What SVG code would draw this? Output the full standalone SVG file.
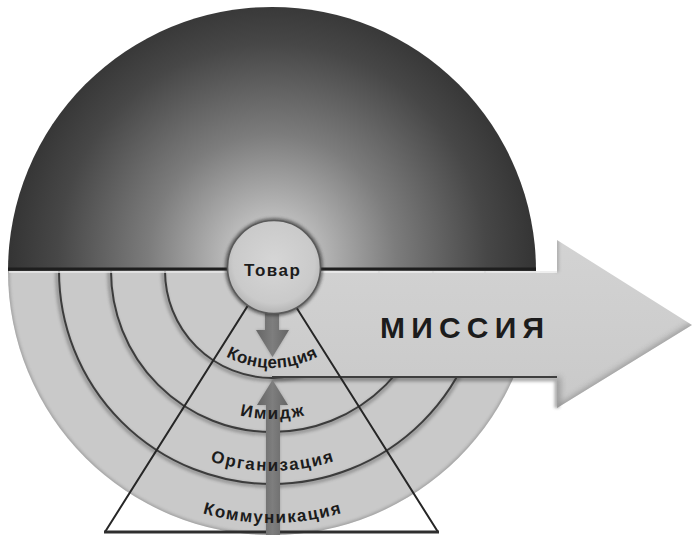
<svg xmlns="http://www.w3.org/2000/svg" width="693" height="535" viewBox="0 0 693 535">
<style>
.lbl{font-family:"Liberation Sans",Arial,sans-serif;font-weight:bold;fill:#1c1c1c;}
.groove{fill:none;stroke:#3c3c3c;stroke-width:2;}
.gshadow{fill:none;stroke:#505050;stroke-width:4;opacity:0.4;}
.tri{fill:none;stroke:#262626;stroke-width:2;}
</style>
<defs>
<radialGradient id="topGrad" gradientUnits="userSpaceOnUse" cx="272" cy="258" r="275">
<stop offset="0" stop-color="#d4d4d4"/>
<stop offset="0.15" stop-color="#bcbcbc"/>
<stop offset="0.45" stop-color="#7c7c7c"/>
<stop offset="0.78" stop-color="#474747"/>
<stop offset="1" stop-color="#303030"/>
</radialGradient>
<linearGradient id="arrowGrad" x1="0" y1="0" x2="0" y2="1">
<stop offset="0" stop-color="#d3d3d3"/>
<stop offset="1" stop-color="#c9c9c9"/>
</linearGradient>
<radialGradient id="circGrad" cx="0.5" cy="0.45" r="0.55">
<stop offset="0" stop-color="#d6d6d6"/>
<stop offset="0.8" stop-color="#cacaca"/>
<stop offset="1" stop-color="#b4b4b4"/>
</radialGradient>
<linearGradient id="darrGrad" x1="0" y1="0" x2="1" y2="0">
<stop offset="0" stop-color="#656565"/>
<stop offset="0.5" stop-color="#7e7e7e"/>
<stop offset="1" stop-color="#656565"/>
</linearGradient>
<filter id="blur" filterUnits="userSpaceOnUse" x="0" y="0" width="693" height="535">
<feGaussianBlur stdDeviation="1.8"/>
</filter>
<filter id="blur3" filterUnits="userSpaceOnUse" x="0" y="0" width="693" height="535">
<feGaussianBlur stdDeviation="3"/>
</filter>
<clipPath id="lowerClip">
<path d="M 8 271 A 264 264 0 0 0 536 271 Z"/>
</clipPath>
<clipPath id="arrowClip">
<polygon points="272,272 557,272 557,240 692,325 557,408 557,377 272,377"/>
</clipPath>
<path id="p1" d="M 175 271 A 97 97 0 0 0 369 271"/>
<path id="p2" d="M 124 271 A 148 148 0 0 0 420 271"/>
<path id="p3" d="M 72 271 A 200 200 0 0 0 472 271"/>
<path id="p4" d="M 22 273 A 250 250 0 0 0 522 273"/>
</defs>

<g id="sphere-top">
<path d="M 8 271 A 264 264 0 1 1 536 271 Z" fill="url(#topGrad)"/>
</g>

<g id="lower-disc">
<path d="M 8 271 A 264 264 0 0 0 536 271 Z" fill="#c9c9c9"/>
<g clip-path="url(#lowerClip)">
<circle cx="272" cy="271" r="265" fill="none" stroke="#666" stroke-width="5" opacity="0.4" filter="url(#blur)"/>
<path class="gshadow" filter="url(#blur)" d="M 163 271 A 109 109 0 0 0 381 271"/>
<path class="gshadow" filter="url(#blur)" d="M 109 271 A 163 163 0 0 0 435 271"/>
<path class="gshadow" filter="url(#blur)" d="M 57 271 A 215 215 0 0 0 487 271"/>
</g>
<path class="groove" d="M 165 271 A 107 107 0 0 0 379 271"/>
<path class="groove" d="M 111 271 A 161 161 0 0 0 433 271"/>
<path class="groove" d="M 59 271 A 213 213 0 0 0 485 271"/>
<line x1="8" y1="269" x2="536" y2="269" stroke="#1e1e1e" stroke-width="3"/>
<line x1="9" y1="272" x2="536" y2="272" stroke="#e8e8e8" stroke-width="1.6"/>
</g>

<g id="mission-arrow">
<path d="M 272 379 L 557 379 L 557 408" fill="none" stroke="#333" stroke-width="5" opacity="0.4" filter="url(#blur)"/>
<polygon points="272,273 557,273 557,240 692,325 557,408 557,377 272,377" fill="url(#arrowGrad)"/>
<g clip-path="url(#arrowClip)">
<path d="M 557 377 L 557 410 L 694 325" fill="none" stroke="#6a6a6a" stroke-width="6" opacity="0.6" filter="url(#blur3)"/>
<path d="M 557 240 L 557 272" fill="none" stroke="#8a8a8a" stroke-width="4" opacity="0.5" filter="url(#blur)"/>
</g>
<line x1="272" y1="377" x2="557" y2="377" stroke="#3e3e3e" stroke-width="2"/>
<line x1="321" y1="272" x2="557" y2="272" stroke="#e8e8e8" stroke-width="1.6"/>
<text class="lbl" x="380" y="338" font-size="30" textLength="164" lengthAdjust="spacing">МИССИЯ</text>
</g>

<g id="triangle">
<polyline class="tri" points="105,532 271.5,268 438,532"/>
<line x1="104" y1="532" x2="439" y2="532" stroke="#2e2e2e" stroke-width="3"/>
</g>

<g id="connectors">
<polygon points="265,310 279,310 279,330 289,330 272.5,357 256,330 265,330" fill="#444" opacity="0.35" filter="url(#blur)"/>
<polygon points="265,310 279,310 279,330 289,330 272.5,357 256,330 265,330" fill="url(#darrGrad)"/>
<polygon points="266,535 280,535 280,405 288,405 272.5,380 257,405 266,405" fill="#444" opacity="0.3" filter="url(#blur)"/>
<polygon points="266,535 280,535 280,405 288,405 272.5,380 257,405 266,405" fill="url(#darrGrad)"/>
</g>

<g id="node-tovar">
<circle cx="274" cy="267" r="47" fill="none" stroke="#2a2a2a" stroke-width="4" opacity="0.6" filter="url(#blur)"/>
<circle cx="274" cy="267" r="46.5" fill="url(#circGrad)" stroke="#5a5a5a" stroke-width="1.6"/>
<text class="lbl" x="272" y="276" font-size="17" text-anchor="middle" textLength="56" lengthAdjust="spacing">Товар</text>
</g>

<g id="labels">
<text class="lbl" font-size="17"><textPath href="#p1" startOffset="50%" text-anchor="middle" textLength="96" lengthAdjust="spacing">Концепция</textPath></text>
<text class="lbl" font-size="17"><textPath href="#p2" startOffset="50%" text-anchor="middle" textLength="65" lengthAdjust="spacing">Имидж</textPath></text>
<text class="lbl" font-size="17"><textPath href="#p3" startOffset="50%" text-anchor="middle" textLength="126" lengthAdjust="spacing">Организация</textPath></text>
<text class="lbl" font-size="17"><textPath href="#p4" startOffset="50%" text-anchor="middle" textLength="141" lengthAdjust="spacing">Коммуникация</textPath></text>
</g>
</svg>
